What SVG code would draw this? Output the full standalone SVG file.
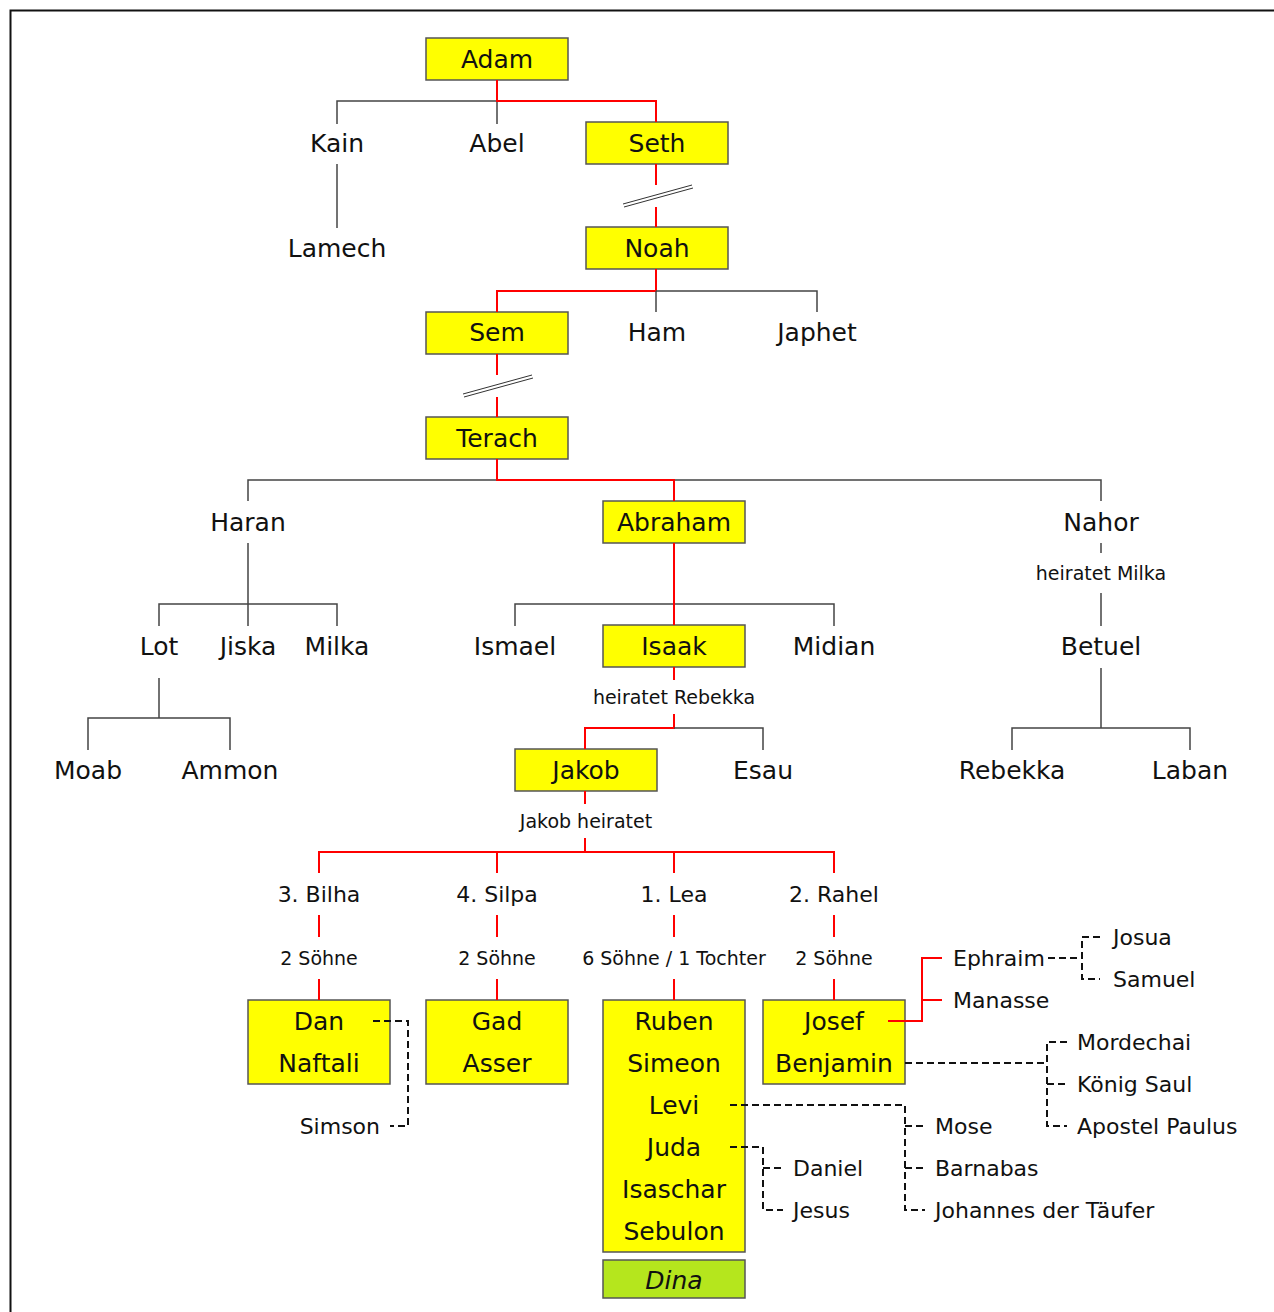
<svg xmlns="http://www.w3.org/2000/svg" width="1274" height="1312" viewBox="0 0 1274 1312">
<style>
text{font-family:"DejaVu Sans","Liberation Sans",sans-serif;fill:#111;text-anchor:middle}
.m{font-size:25px}
.d{font-size:22px}
.s{font-size:19px}
.l{text-anchor:start}
.e{text-anchor:end}
.box{fill:#ffff00;stroke:#555;stroke-width:1.5}
.g{fill:none;stroke:#444;stroke-width:1.5}
.r{fill:none;stroke:#ff0000;stroke-width:2}
.k{fill:none;stroke:#111;stroke-width:2;stroke-dasharray:7 4}
</style>
<rect x="0" y="0" width="1274" height="1312" fill="#fff"/>
<path d="M10.5 1312 V10.5 H1274" fill="none" stroke="#111" stroke-width="2"/>
<g id="adam"><rect class="box" x="426" y="38" width="142" height="42"/><text class="m" x="497" y="68">Adam</text></g>
<g id="kain"><text class="m" x="337" y="152">Kain</text></g>
<g id="abel"><text class="m" x="497" y="152">Abel</text></g>
<g id="seth"><rect class="box" x="586" y="122" width="142" height="42"/><text class="m" x="657" y="152">Seth</text></g>
<g id="lamech"><text class="m" x="337" y="257">Lamech</text></g>
<g id="noah"><rect class="box" x="586" y="227" width="142" height="42"/><text class="m" x="657" y="257">Noah</text></g>
<g id="sem"><rect class="box" x="426" y="312" width="142" height="42"/><text class="m" x="497" y="341">Sem</text></g>
<g id="ham"><text class="m" x="657" y="341">Ham</text></g>
<g id="japhet"><text class="m" x="817" y="341">Japhet</text></g>
<g id="terach"><rect class="box" x="426" y="417" width="142" height="42"/><text class="m" x="497" y="447">Terach</text></g>
<g id="haran"><text class="m" x="248" y="531">Haran</text></g>
<g id="abraham"><rect class="box" x="603" y="501" width="142" height="42"/><text class="m" x="674" y="531">Abraham</text></g>
<g id="nahor"><text class="m" x="1101" y="531">Nahor</text></g>
<g id="heiratet-milka"><text class="s" x="1101" y="580">heiratet Milka</text></g>
<g id="lot"><text class="m" x="159" y="655">Lot</text></g>
<g id="jiska"><text class="m" x="248" y="655">Jiska</text></g>
<g id="milka"><text class="m" x="337" y="655">Milka</text></g>
<g id="ismael"><text class="m" x="515" y="655">Ismael</text></g>
<g id="isaak"><rect class="box" x="603" y="625" width="142" height="42"/><text class="m" x="674" y="655">Isaak</text></g>
<g id="midian"><text class="m" x="834" y="655">Midian</text></g>
<g id="betuel"><text class="m" x="1101" y="655">Betuel</text></g>
<g id="heiratet-rebekka"><text class="s" x="674" y="704">heiratet Rebekka</text></g>
<g id="moab"><text class="m" x="88" y="779">Moab</text></g>
<g id="ammon"><text class="m" x="230" y="779">Ammon</text></g>
<g id="jakob"><rect class="box" x="515" y="749" width="142" height="42"/><text class="m" x="586" y="779">Jakob</text></g>
<g id="esau"><text class="m" x="763" y="779">Esau</text></g>
<g id="rebekka"><text class="m" x="1012" y="779">Rebekka</text></g>
<g id="laban"><text class="m" x="1190" y="779">Laban</text></g>
<g id="jakob-heiratet"><text class="s" x="586" y="828">Jakob heiratet</text></g>
<g id="bilha"><text class="d" x="319" y="902">3. Bilha</text><text class="s" x="319" y="965">2 Söhne</text></g>
<g id="silpa"><text class="d" x="497" y="902">4. Silpa</text><text class="s" x="497" y="965">2 Söhne</text></g>
<g id="lea"><text class="d" x="674" y="902">1. Lea</text><text class="s" x="674" y="965">6 Söhne / 1 Tochter</text></g>
<g id="rahel"><text class="d" x="834" y="902">2. Rahel</text><text class="s" x="834" y="965">2 Söhne</text></g>
<g id="dan-naftali"><rect class="box" x="248" y="1000" width="142" height="84"/><text class="m" x="319" y="1030">Dan</text><text class="m" x="319" y="1072">Naftali</text></g>
<g id="gad-asser"><rect class="box" x="426" y="1000" width="142" height="84"/><text class="m" x="497" y="1030">Gad</text><text class="m" x="497" y="1072">Asser</text></g>
<g id="lea-sons"><rect class="box" x="603" y="1000" width="142" height="252"/>
<text class="m" x="674" y="1030">Ruben</text><text class="m" x="674" y="1072">Simeon</text><text class="m" x="674" y="1114">Levi</text><text class="m" x="674" y="1156">Juda</text><text class="m" x="674" y="1198">Isaschar</text><text class="m" x="674" y="1240">Sebulon</text></g>
<g id="dina"><rect x="603" y="1260" width="142" height="38" fill="#b5e61d" stroke="#555" stroke-width="1.5"/><text class="m" x="674" y="1289" font-style="italic">Dina</text></g>
<g id="josef-benjamin"><rect class="box" x="763" y="1000" width="142" height="84"/><text class="m" x="834" y="1030">Josef</text><text class="m" x="834" y="1072">Benjamin</text></g>
<g id="ephraim"><text class="d l" x="953" y="966">Ephraim</text></g>
<g id="manasse"><text class="d l" x="953" y="1008">Manasse</text></g>
<g id="josua"><text class="d l" x="1113" y="945">Josua</text></g>
<g id="samuel"><text class="d l" x="1113" y="987">Samuel</text></g>
<g id="mordechai"><text class="d l" x="1077" y="1050">Mordechai</text></g>
<g id="koenig-saul"><text class="d l" x="1077" y="1092">König Saul</text></g>
<g id="apostel-paulus"><text class="d l" x="1077" y="1134">Apostel Paulus</text></g>
<g id="mose"><text class="d l" x="935" y="1134">Mose</text></g>
<g id="barnabas"><text class="d l" x="935" y="1176">Barnabas</text></g>
<g id="johannes"><text class="d l" x="935" y="1218">Johannes der Täufer</text></g>
<g id="daniel"><text class="d l" x="793" y="1176">Daniel</text></g>
<g id="jesus"><text class="d l" x="793" y="1218">Jesus</text></g>
<g id="simson"><text class="d e" x="380" y="1134">Simson</text></g>
<g id="connectors">
<path class="g" d="M337 124 V101 H497 M497 101 V124"/>
<path class="r" d="M497 80 V101 H656 V122"/>
<path class="g" d="M337 164 V228"/>
<path class="r" d="M656 164 V185 M656 207 V227"/>
<path d="M623 204 L692 185 M624 207 L693 188" stroke="#333" stroke-width="1" fill="none"/>
<path class="r" d="M656 269 V291 H497 V312"/>
<path class="g" d="M656 291 H817 V312 M656 291 V312"/>
<path class="r" d="M497 354 V375 M497 397 V417"/>
<path d="M463 394 L532 375 M464 397 L533 378" stroke="#333" stroke-width="1" fill="none"/>
<path class="g" d="M248 501 V480 H497 M674 480 H1101 V501"/>
<path class="r" d="M497 459 V480 H674 V501"/>
<path class="g" d="M248 543 V626 M159 626 V604 H337 V626"/>
<path class="g" d="M159 678 V718 M88 750 V718 H230 V750"/>
<path class="g" d="M515 626 V604 H834 V626"/>
<path class="r" d="M674 543 V625"/>
<path class="r" d="M674 667 V680 M674 714 V728 H585 V749"/>
<path class="g" d="M674 728 H763 V750"/>
<path class="g" d="M1101 543 V553 M1101 593 V626 M1101 668 V728 M1012 750 V728 H1190 V750"/>
<path class="r" d="M585 791 V804 M585 838 V852 M319 873 V852 H834 V873 M497 852 V873 M674 852 V873"/>
<path class="r" d="M319 915 V937 M319 979 V1000 M497 915 V937 M497 979 V1000 M674 915 V937 M674 979 V1000 M834 915 V937 M834 979 V1000"/>
<path class="r" d="M888 1021 H922 V958 H942 M922 1000 H942"/>
<path class="k" d="M1048 958 H1082 M1100 937 H1082 V979 H1100"/>
<path class="k" d="M905 1063 H1047 M1067 1042 H1047 V1126 H1067 M1047 1084 H1067"/>
<path class="k" d="M730 1105 H905 V1210 H925 M905 1126 H925 M905 1168 H925"/>
<path class="k" d="M730 1147 H763 V1210 H783 M763 1168 H783"/>
<path class="k" d="M373 1021 H408 V1126 H390"/>
</g>
</svg>
